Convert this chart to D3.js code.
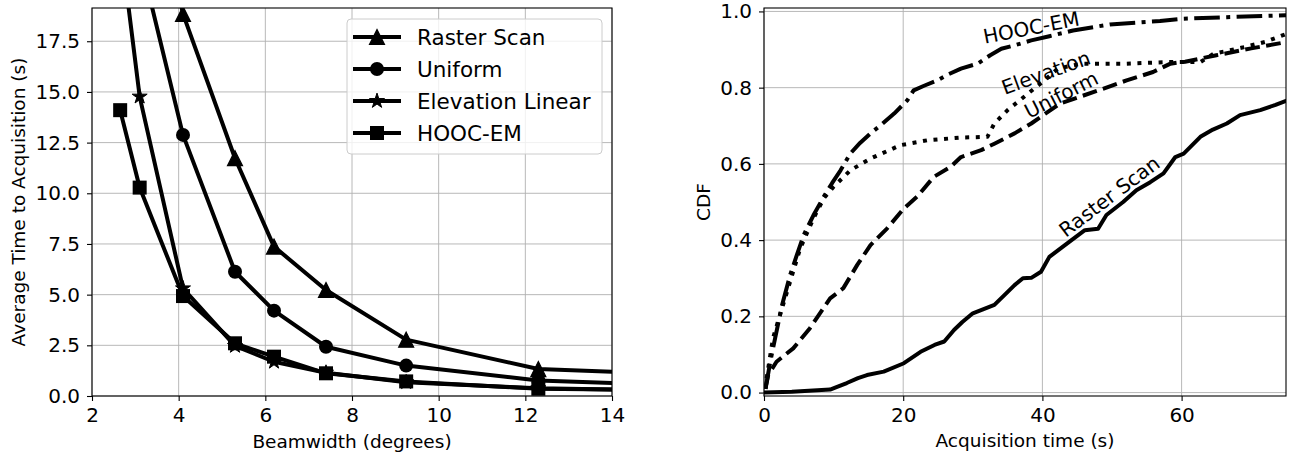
<!DOCTYPE html>
<meta charset="utf-8">
<style>
  body { margin: 0; background: #fff; }
  text { font-family: "DejaVu Sans", sans-serif; fill: #000; }
</style>
<svg width="1293" height="457"></svg>
<script src="https://d3js.org/d3.v7.min.js"></script>
<script>

// left panel: average time to acquisition vs beamwidth
var beamwidth = [2.65, 3.1, 4.1, 5.3, 6.2, 7.4, 9.25, 12.3, 18.5];
var rasterTime = [42, 29, 18.85, 11.73, 7.37, 5.23, 2.78, 1.33, 0.86];
var uniformTime = [30, 21.7, 12.88, 6.13, 4.21, 2.43, 1.5, 0.77, 0.3];
var elevationTime = [22.5, 14.77, 5.31, 2.47, 1.69, 1.15, 0.68, 0.38, 0.15];
var hoocTime = [14.1, 10.28, 4.93, 2.6, 1.94, 1.12, 0.72, 0.36, 0.2];
var seriesNames = ["Raster Scan", "Uniform", "Elevation Linear", "HOOC-EM"];
var leftXTicks = [2, 4, 6, 8, 10, 12, 14];
var leftYTicks = [0, 2.5, 5, 7.5, 10, 12.5, 15, 17.5];

// right panel: CDF of acquisition time
var rasterCdfT = [0, 4, 9.5, 10.5, 11.9, 13.5, 14.8, 17.2, 20.1, 22.5, 24.5, 25.9, 27.3, 28.5, 30.0, 33.1, 34.5, 36.0, 37.2, 38.4, 39.8, 41.0, 43.9, 46.1, 48.0, 49.2, 51.6, 53.5, 55.5, 57.4, 59.1, 60.3, 62.7, 64.5, 66.5, 68.4, 71.3, 73.5, 75.2];
var rasterCdfP = [0, 0.002, 0.008, 0.015, 0.025, 0.038, 0.046, 0.055, 0.077, 0.107, 0.125, 0.134, 0.164, 0.185, 0.208, 0.23, 0.255, 0.282, 0.30, 0.301, 0.317, 0.356, 0.396, 0.426, 0.43, 0.466, 0.50, 0.531, 0.552, 0.575, 0.618, 0.627, 0.671, 0.69, 0.706, 0.728, 0.741, 0.755, 0.767];
var uniformCdfT = [0.2, 0.6, 1.8, 4.2, 6.6, 9.5, 11.4, 13.4, 15.3, 17.7, 20.1, 22.0, 24.4, 26.8, 28.3, 31.2, 33.1, 36.0, 38.4, 42.5, 48.7, 52.1, 55.9, 56.9, 58.4, 60.5, 65, 70, 75.2];
var uniformCdfP = [0.01, 0.046, 0.081, 0.116, 0.169, 0.247, 0.274, 0.335, 0.387, 0.431, 0.483, 0.514, 0.566, 0.592, 0.618, 0.636, 0.653, 0.68, 0.706, 0.758, 0.797, 0.819, 0.841, 0.85, 0.863, 0.868, 0.885, 0.903, 0.92];
var elevationCdfT = [0.2, 0.4, 1.3, 2.3, 3.75, 5.2, 7.1, 8.6, 10.0, 12.4, 15.3, 19.6, 23.5, 28.3, 32.1, 33.1, 35.0, 37.9, 40.3, 42.2, 45.6, 52.1, 57.9, 62.7, 64.6, 68.9, 72, 75.2];
var elevationCdfP = [0.01, 0.04, 0.143, 0.204, 0.291, 0.378, 0.457, 0.51, 0.54, 0.583, 0.614, 0.649, 0.662, 0.669, 0.671, 0.706, 0.741, 0.784, 0.819, 0.85, 0.863, 0.863, 0.867, 0.867, 0.889, 0.906, 0.92, 0.942];
var hoocCdfT = [0.2, 0.4, 0.9, 1.6, 2.6, 3.75, 4.7, 5.7, 7.1, 8.6, 9.8, 11.0, 12.4, 13.8, 15.3, 17.0, 18.7, 20.6, 21.5, 23.0, 24.9, 26.5, 28.3, 30.7, 32.5, 34.1, 36.0, 38.4, 41.0, 44.4, 49.7, 56.9, 60.3, 66.5, 75.2];
var hoocCdfP = [0.01, 0.029, 0.081, 0.143, 0.23, 0.308, 0.36, 0.413, 0.465, 0.514, 0.55, 0.583, 0.627, 0.655, 0.68, 0.705, 0.732, 0.767, 0.793, 0.805, 0.819, 0.835, 0.85, 0.863, 0.885, 0.902, 0.911, 0.924, 0.935, 0.95, 0.966, 0.975, 0.981, 0.985, 0.99];
var cdfLabels = ["HOOC-EM", "Elevation", "Uniform", "Raster Scan"];
var cdfLabelT = [38.4, 40.5, 42.7, 49.6];
var cdfLabelP = [0.958, 0.84, 0.782, 0.515];
var cdfLabelAngle = [-11, -20, -27, -37];
var rightXTicks = [0, 20, 40, 60];
var rightYTicks = [0, 0.2, 0.4, 0.6, 0.8, 1.0];

var svg = d3.select("svg");
var grid = "#b0b0b0";

function panel(id, x0, x1, y0, y1) {
  var g = svg.append("g");
  g.append("clipPath").attr("id", id)
    .append("rect").attr("x", x0).attr("y", y0).attr("width", x1 - x0).attr("height", y1 - y0);
  return g;
}

function drawAxes(g, x, y, xt, yt, xfmt, yfmt, x0, x1, y0, y1) {
  g.selectAll(".gx").data(xt).enter().append("line")
    .attr("x1", d => x(d)).attr("x2", d => x(d)).attr("y1", y0).attr("y2", y1)
    .attr("stroke", grid).attr("stroke-width", 0.9);
  g.selectAll(".gy").data(yt).enter().append("line")
    .attr("y1", d => y(d)).attr("y2", d => y(d)).attr("x1", x0).attr("x2", x1)
    .attr("stroke", grid).attr("stroke-width", 0.9);
}

function finishAxes(g, x, y, xt, yt, xfmt, yfmt, x0, x1, y0, y1) {
  var ax = g.append("g").attr("transform", "translate(0," + y1 + ")")
    .call(d3.axisBottom(x).tickValues(xt).tickFormat(xfmt).tickSize(5).tickPadding(7));
  var ay = g.append("g").attr("transform", "translate(" + x0 + ",0)")
    .call(d3.axisLeft(y).tickValues(yt).tickFormat(yfmt).tickSize(5).tickPadding(7));
  [ax, ay].forEach(function (a) {
    a.select(".domain").remove();
    a.selectAll("text").style("font-size", "20px").style("font-family", "DejaVu Sans");
    a.selectAll("line").attr("stroke", "#000").attr("stroke-width", 1.1);
  });
  g.append("rect").attr("x", x0).attr("y", y0).attr("width", x1 - x0).attr("height", y1 - y0)
    .attr("fill", "none").attr("stroke", "#000").attr("stroke-width", 1.1);
}

// marker shapes
function marker(sel, kind) {
  if (kind === 1) {
    sel.append("circle").attr("r", 7).attr("fill", "#000");
  } else if (kind === 0) {
    sel.append("path").attr("d", "M0,-7.5L7.5,7.5L-7.5,7.5Z").attr("fill", "#000")
      .attr("stroke", "#000").attr("stroke-width", 1.2).attr("stroke-linejoin", "miter");
  } else if (kind === 2) {
    sel.append("path").attr("d", d3.symbol().type(d3.symbolStar).size(70)()).attr("fill", "#000")
      .attr("stroke", "#000").attr("stroke-width", 1);
  } else {
    sel.append("rect").attr("x", -7).attr("y", -7).attr("width", 14).attr("height", 14).attr("fill", "#000");
  }
}

// ---- left panel ----
var L = { x0: 92, x1: 612, y0: 8, y1: 396 };
var xL = d3.scaleLinear().domain([2, 14]).range([L.x0, L.x1]);
var yL = d3.scaleLinear().domain([0, 19.14]).range([L.y1, L.y0]);
var gL = panel("clipL", L.x0, L.x1, L.y0, L.y1);
drawAxes(gL, xL, yL, leftXTicks, leftYTicks, null, null, L.x0, L.x1, L.y0, L.y1);

var leftSeries = [rasterTime, uniformTime, elevationTime, hoocTime];
var lineL = d3.line().x((d, i) => xL(beamwidth[i])).y(d => yL(d));
var plotL = gL.append("g").attr("clip-path", "url(#clipL)");
leftSeries.forEach(function (vals, k) {
  plotL.append("path").datum(vals).attr("d", lineL)
    .attr("fill", "none").attr("stroke", "#000").attr("stroke-width", 4).attr("stroke-linejoin", "round");
  vals.forEach(function (v, i) {
    var m = plotL.append("g").attr("transform", "translate(" + xL(beamwidth[i]) + "," + yL(v) + ")");
    marker(m, k);
  });
});

finishAxes(gL, xL, yL, leftXTicks, leftYTicks, d3.format("d"), d3.format(".1f"), L.x0, L.x1, L.y0, L.y1);

// legend
var leg = gL.append("g");
leg.append("rect").attr("x", 347).attr("y", 19).attr("width", 255).attr("height", 135).attr("rx", 4)
  .attr("fill", "#fff").attr("fill-opacity", 0.8).attr("stroke", "#cccccc").attr("stroke-width", 1);
seriesNames.forEach(function (name, k) {
  var yy = 37 + k * 32;
  leg.append("line").attr("x1", 353).attr("x2", 401).attr("y1", yy).attr("y2", yy)
    .attr("stroke", "#000").attr("stroke-width", 4);
  marker(leg.append("g").attr("transform", "translate(377," + yy + ")"), k);
  leg.append("text").attr("x", 417).attr("y", yy).attr("dy", "0.36em")
    .style("font-size", "21.5px").text(name);
});

gL.append("text").attr("x", (L.x0 + L.x1) / 2).attr("y", 448).attr("text-anchor", "middle")
  .style("font-size", "18.5px").text("Beamwidth (degrees)");
gL.append("text").attr("transform", "translate(25,202) rotate(-90)").attr("text-anchor", "middle")
  .style("font-size", "18.5px").text("Average Time to Acquisition (s)");

// ---- right panel ----
var R = { x0: 764, x1: 1286, y0: 8, y1: 396 };
var xR = d3.scaleLinear().domain([0, 75]).range([R.x0, R.x1]);
var yR = d3.scaleLinear().domain([-0.009, 1.009]).range([R.y1, R.y0]);
var gR = panel("clipR", R.x0, R.x1, R.y0, R.y1);
drawAxes(gR, xR, yR, rightXTicks, rightYTicks, null, null, R.x0, R.x1, R.y0, R.y1);

var cdfs = [
  { t: rasterCdfT, p: rasterCdfP, dash: null },
  { t: uniformCdfT, p: uniformCdfP, dash: "14.8,6.4" },
  { t: elevationCdfT, p: elevationCdfP, dash: "4,6.6" },
  { t: hoocCdfT, p: hoocCdfP, dash: "25.6,6.4,4,6.4" }
];
var plotR = gR.append("g").attr("clip-path", "url(#clipR)");
cdfs.forEach(function (c) {
  var line = d3.line().x((d, i) => xR(c.t[i])).y(d => yR(d));
  plotR.append("path").datum(c.p).attr("d", line)
    .attr("fill", "none").attr("stroke", "#000").attr("stroke-width", 4)
    .attr("stroke-linejoin", "round").attr("stroke-dasharray", c.dash);
});

cdfLabels.forEach(function (name, k) {
  plotR.append("text")
    .attr("transform", "translate(" + xR(cdfLabelT[k]) + "," + yR(cdfLabelP[k]) + ") rotate(" + cdfLabelAngle[k] + ")")
    .attr("text-anchor", "middle").attr("dy", "0.36em")
    .style("font-size", "20px").text(name);
});

finishAxes(gR, xR, yR, rightXTicks, rightYTicks, d3.format("d"), d3.format(".1f"), R.x0, R.x1, R.y0, R.y1);

gR.append("text").attr("x", (R.x0 + R.x1) / 2).attr("y", 447).attr("text-anchor", "middle")
  .style("font-size", "18.5px").text("Acquisition time (s)");
gR.append("text").attr("transform", "translate(710,202) rotate(-90)").attr("text-anchor", "middle")
  .style("font-size", "18.5px").text("CDF");

</script>
